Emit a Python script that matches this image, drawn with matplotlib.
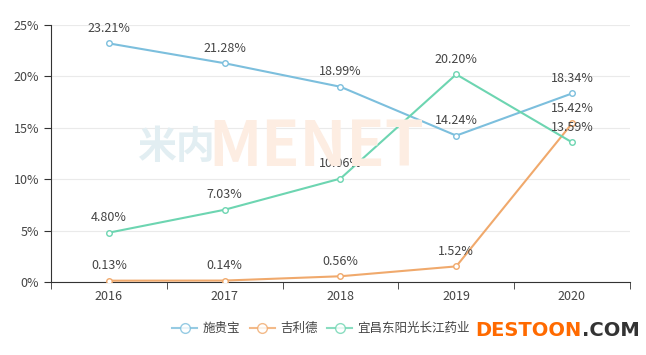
import numpy as np
import matplotlib.pyplot as plt
from matplotlib.ticker import FuncFormatter, FixedLocator

plt.rcParams['font.family'] = ['Noto Sans CJK SC', 'DejaVu Sans']

years = ['2016', '2017', '2018', '2019', '2020']
names = ['施贵宝', '吉利德', '宜昌东阳光长江药业']
shiguibao = [23.21, 21.28, 18.99, 14.24, 18.34]
jilide = [0.13, 0.14, 0.56, 1.52, 15.42]
dongyangguang = [4.80, 7.03, 10.06, 20.20, 13.59]
colors = ['#7cbfdd', '#f0a96c', '#6dd5b1']

fig = plt.figure(figsize=(6.46, 3.55), dpi=100)
ax = fig.add_axes([0.079, 0.2056, 0.896, 0.724])

# watermark
fig.text(0.272, 0.585, '米内', fontsize=28, color='#e2eef2', ha='center', va='center',
         fontweight='bold', zorder=0)
fig.text(0.49, 0.585, 'MENET', fontsize=45, color='#fdede2', ha='center', va='center',
         fontweight='bold', zorder=0)

x = np.arange(len(years))
for vals, name, c in zip([shiguibao, jilide, dongyangguang], names, colors):
    ax.plot(x, vals, color=c, lw=1.5, marker='o', ms=4, mfc='white', mec=c, mew=1,
            label=name, zorder=3)
    for xi, v in zip(x, vals):
        ax.annotate('%.2f%%' % v, (xi, v), xytext=(0, 6), textcoords='offset points',
                    ha='center', va='bottom', fontsize=9, color='#444444', zorder=4)

ax.set_xlim(-0.5, 4.5)
ax.set_ylim(0, 25)
ax.set_yticks([0, 5, 10, 15, 20, 25])
ax.yaxis.set_major_formatter(FuncFormatter(lambda v, p: '%d%%' % v))
ax.set_xticks(x)
ax.set_xticklabels(years)
ax.xaxis.set_minor_locator(FixedLocator(np.arange(-0.5, 5, 1)))
ax.tick_params(axis='x', which='major', length=0, pad=6, labelsize=9, colors='#444444')
ax.tick_params(axis='x', which='minor', length=5, color='#333333')
ax.tick_params(axis='y', length=5, color='#333333', labelsize=9, labelcolor='#444444')
ax.grid(axis='y', color='#eaeaea', lw=0.8)
ax.set_axisbelow(True)
for s in ['top', 'right']:
    ax.spines[s].set_visible(False)
for s in ['left', 'bottom']:
    ax.spines[s].set_color('#333333')
ax.patch.set_alpha(0)

leg = fig.legend(loc='center', bbox_to_anchor=(0.497, 0.075), ncol=3, frameon=False,
                 fontsize=9, handlelength=2.0, columnspacing=0.8, handletextpad=0.4)
for t in leg.get_texts():
    t.set_color('#444444')
for h in leg.legend_handles:
    h.set_markersize(7)
    h.set_alpha(0.8)

t1 = fig.text(0.735, 0.068, 'DESTOON', fontsize=14, fontweight='bold', color='#ff6a00',
              ha='left', va='center', family='DejaVu Sans')
r = fig.canvas.get_renderer()
bb = t1.get_window_extent(r).transformed(fig.transFigure.inverted())
fig.text(bb.x1 + 0.002, 0.068, '.COM', fontsize=14, fontweight='bold', color='#333333',
         ha='left', va='center', family='DejaVu Sans')

fig.savefig('out.png', dpi=100)
